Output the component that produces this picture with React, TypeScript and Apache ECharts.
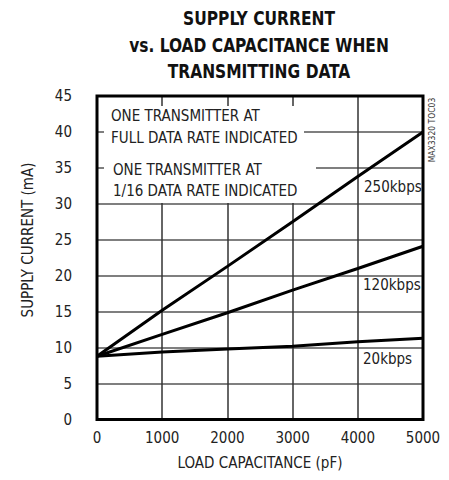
import React, { useEffect, useRef } from "react";
import * as echarts from "echarts";

const capacitance = [0, 1000, 2000, 3000, 4000, 5000];
const current250 = [8.8, 15.2, 21.3, 27.5, 33.8, 40.0];
const current120 = [8.8, 11.85, 14.85, 18.0, 21.0, 24.1];
const current20 = [8.8, 9.4, 9.8, 10.2, 10.8, 11.3];
const xTicks = [0, 1000, 2000, 3000, 4000, 5000];
const yTicks = [0, 5, 10, 15, 20, 25, 30, 35, 40, 45];
const seriesNames = ["250kbps", "120kbps", "20kbps"];

const FONT = "'Liberation Sans Narrow', 'DejaVu Sans Condensed', 'Liberation Sans', sans-serif";

export default function App() {
  const ref = useRef<HTMLDivElement>(null);
  useEffect(() => {
    if (!ref.current) return;
    document.body.style.margin = "0";
    const chart = echarts.init(ref.current, null, { renderer: "svg" });
    const toPairs = (ys: number[]) => capacitance.map((x, i) => [x, ys[i]]);
    const lineStyle = { color: "#000", width: 3 };
    const txt = { fontFamily: FONT, fontSize: 15, fill: "#222", verticalAlign: "middle" };
    chart.setOption({
      animation: false,
      backgroundColor: "#fff",
      grid: {
        left: 97,
        top: 96,
        right: 26,
        bottom: 60.5,
        show: true,
        borderColor: "#000",
        borderWidth: 3,
        z: 3,
      },
      xAxis: {
        type: "value",
        min: xTicks[0],
        max: xTicks[xTicks.length - 1],
        interval: 1000,
        axisLine: { show: false },
        axisTick: { show: false },
        splitLine: { show: true, lineStyle: { color: "#333", width: 1.5 } },
        axisLabel: {
          color: "#222",
          fontFamily: FONT,
          fontSize: 15,
          margin: 11,
          formatter: (v: number) => String(v),
        },
        name: "LOAD CAPACITANCE (pF)",
        nameLocation: "middle",
        nameGap: 36,
        nameTextStyle: { color: "#222", fontFamily: FONT, fontSize: 15 },
      },
      yAxis: {
        type: "value",
        min: yTicks[0],
        max: yTicks[yTicks.length - 1],
        interval: 5,
        axisLine: { show: false },
        axisTick: { show: false },
        splitLine: { show: true, lineStyle: { color: "#555", width: 1.5 } },
        axisLabel: {
          color: "#222",
          fontFamily: FONT,
          fontSize: 15,
          margin: 25,
        },
      },
      series: [
        { name: seriesNames[0], type: "line", data: toPairs(current250), showSymbol: false, lineStyle, z: 4 },
        { name: seriesNames[1], type: "line", data: toPairs(current120), showSymbol: false, lineStyle, z: 4 },
        { name: seriesNames[2], type: "line", data: toPairs(current20), showSymbol: false, lineStyle, z: 4 },
      ],
      graphic: [
        {
          type: "text",
          x: 259,
          y: 5,
          scaleX: 0.86,
          style: {
            text: "SUPPLY CURRENT\nvs. LOAD CAPACITANCE WHEN\nTRANSMITTING DATA",
            fontFamily: FONT,
            fontWeight: "bold",
            fontSize: 20,
            lineHeight: 26.5,
            fill: "#111",
            align: "center",
          },
        },
        {
          type: "text",
          x: 28,
          y: 240,
          rotation: Math.PI / 2,
          style: {
            text: "SUPPLY CURRENT (mA)",
            fontFamily: FONT,
            fontSize: 15,
            fill: "#222",
            align: "center",
            verticalAlign: "middle",
          },
        },
        {
          type: "text",
          x: 432,
          y: 130,
          rotation: Math.PI / 2,
          style: {
            text: "MAX3320 TOC03",
            fontFamily: FONT,
            fontSize: 8.5,
            fill: "#333",
            align: "center",
            verticalAlign: "middle",
          },
        },
        { type: "rect", z: 1, shape: { x: 104, y: 106, width: 200, height: 44 }, style: { fill: "#fff" } },
        { type: "rect", z: 1, shape: { x: 104, y: 150, width: 212, height: 53 }, style: { fill: "#fff" } },
        { type: "text", z: 5, x: 111, y: 116, style: { ...txt, text: "ONE TRANSMITTER AT" } },
        { type: "text", z: 5, x: 111, y: 138, style: { ...txt, text: "FULL DATA RATE INDICATED" } },
        { type: "text", z: 5, x: 113, y: 170, style: { ...txt, text: "ONE TRANSMITTER AT" } },
        { type: "text", z: 5, x: 113, y: 190.5, style: { ...txt, text: "1/16 DATA RATE INDICATED" } },
        { type: "text", z: 5, x: 364, y: 187, style: { ...txt, text: seriesNames[0] } },
        { type: "text", z: 5, x: 363, y: 285, style: { ...txt, text: seriesNames[1] } },
        { type: "text", z: 5, x: 363, y: 359, style: { ...txt, text: seriesNames[2] } },
      ],
    });
    return () => chart.dispose();
  }, []);
  return <div ref={ref} style={{ width: 449, height: 480 }} />;
}
